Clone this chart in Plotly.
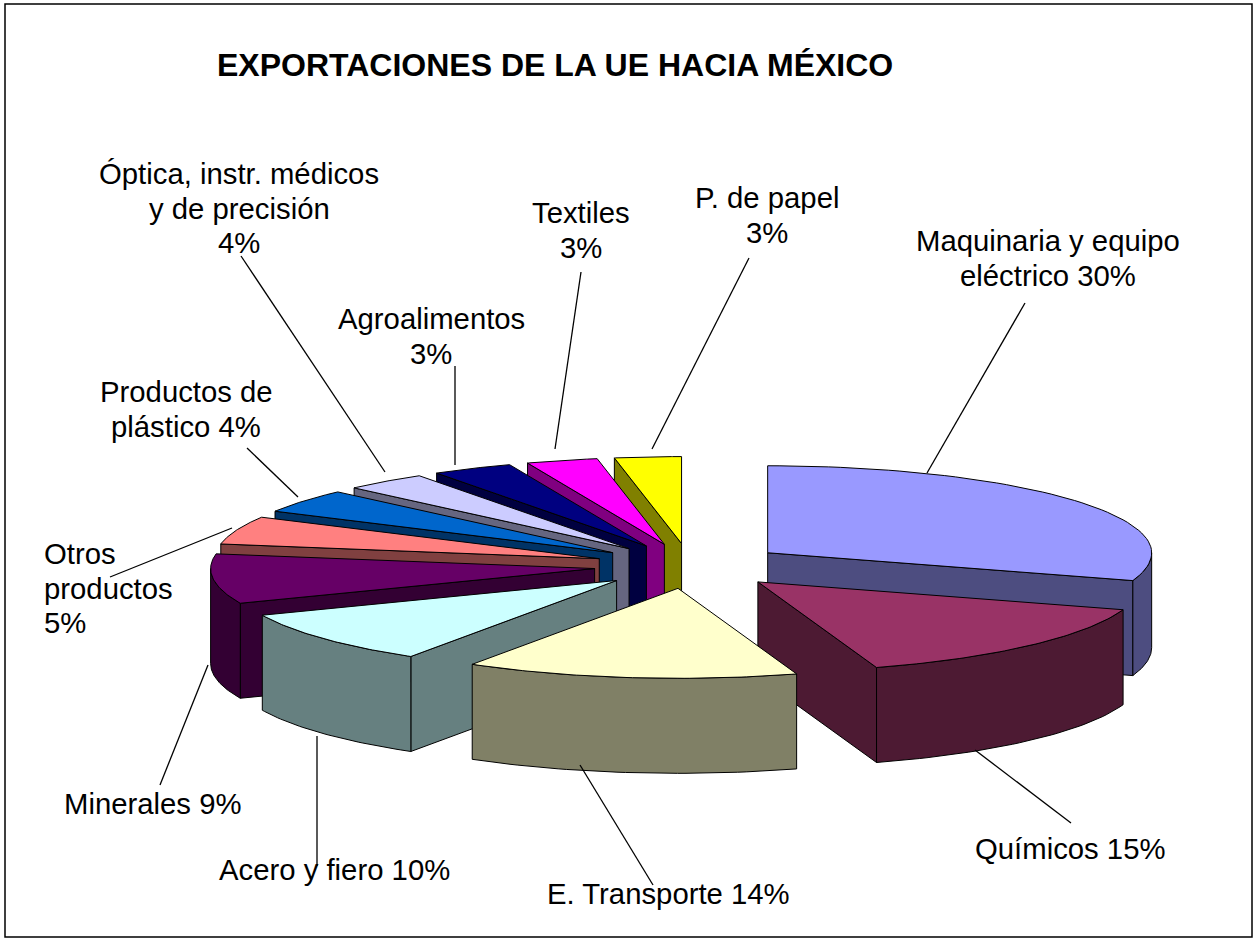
import numpy as np
import plotly.graph_objects as go

categories = ["Maquinaria y equipo eléctrico", "Químicos", "E. Transporte", "Acero y fiero", "Minerales",
              "Otros productos", "Productos de plástico", "Óptica, instr. médicos y de precisión",
              "Agroalimentos", "Textiles", "P. de papel"]
shares = [30, 15, 14, 9.7, 9, 5.2, 4.4, 3.5, 3.4, 3.0, 2.8]
top_colors = ["#9999FF", "#993366", "#FFFFCC", "#CCFFFF", "#660066", "#FF8080",
              "#0066CC", "#CCCCFF", "#000080", "#FF00FF", "#FFFF00"]
side_colors = ["#4D4D80", "#4D1A33", "#808066", "#668080", "#330033", "#804040",
               "#003366", "#666680", "#000040", "#800080", "#808000"]

title_text = "EXPORTACIONES DE LA UE HACIA MÉXICO"
label_texts = ["Maquinaria y equipo<br>eléctrico 30%", "Químicos 15%", "E. Transporte 14%", "Acero y fiero 10%",
               "Minerales 9%", "Otros<br>productos<br>5%", "Productos de<br>plástico 4%",
               "Óptica, instr. médicos<br>y de precisión<br>4%", "Agroalimentos<br>3%", "Textiles<br>3%",
               "P. de papel<br>3%"]
label_x = [1048, 1070, 668, 334, 152, 42, 186, 239, 431, 581, 767]
label_y = [258, 848, 893, 869, 803, 588, 409, 208, 336, 230, 215]
label_anchor = ["center"] * 5 + ["left"] + ["center"] * 5
leaders = [(1025, 303, 927, 473), (1071, 823, 975, 750), (653, 885, 580, 765), (317, 866, 317, 736),
           (160, 785, 208, 665), (110, 577, 232, 528), (247, 448, 298, 497), (241, 256, 385, 472),
           (455, 366, 455, 465), (581, 272, 555, 449), (749, 258, 652, 449)]

# projection of the exploded pie onto the page
CX, CY = 690, 566
RX = 384
RY_BACK, RY_FRONT = 87, 90
EXPLODE = 96
DEPTH = 95
FONT = "Liberation Sans, Arial, sans-serif"
LINE_STEP = 34.5

fig = go.Figure()


def poly(xs, ys, color):
    fig.add_trace(go.Scatter(x=list(xs) + [xs[0]], y=list(ys) + [ys[0]], mode="lines", fill="toself",
                             fillcolor=color, line=dict(color="#000000", width=1),
                             hoverinfo="skip", showlegend=False))


edges = np.concatenate([[0], np.cumsum(shares)]) * 3.6
slices = []
for i in range(len(shares)):
    t0, t1 = edges[i], edges[i + 1]
    slices.append((-np.cos(np.radians((t0 + t1) / 2)), i, t0, t1))

for _, i, t0, t1 in sorted(slices):
    mid = np.radians((t0 + t1) / 2)
    ax = CX + EXPLODE * np.sin(mid)
    ay = CY - EXPLODE * RY_FRONT / RX * np.cos(mid)

    def rim(deg):
        r = np.radians(deg)
        c = np.cos(r)
        return ax + RX * np.sin(r), ay - np.where(c > 0, RY_BACK, RY_FRONT) * c

    # radial side faces
    if np.sin(np.radians(t0)) < -1e-9:
        x, y = rim(t0)
        poly([ax, x, x, ax], [ay, y, y + DEPTH, ay + DEPTH], side_colors[i])
    if np.sin(np.radians(t1)) > 1e-9:
        x, y = rim(t1)
        poly([ax, x, x, ax], [ay, y, y + DEPTH, ay + DEPTH], side_colors[i])
    # outer rim
    lo, hi = max(t0, 90), min(t1, 270)
    if hi > lo:
        x, y = rim(np.linspace(lo, hi, 40))
        poly(np.concatenate([x, x[::-1]]), np.concatenate([y, y[::-1] + DEPTH]), side_colors[i])
    # top face
    x, y = rim(np.linspace(t0, t1, 60))
    poly(np.concatenate([[ax], x]), np.concatenate([[ay], y]), top_colors[i])

shapes = [dict(type="rect", x0=5, y0=4, x1=1252, y1=937, line=dict(color="#000000", width=1.5), layer="below")]
for x0, y0, x1, y1 in leaders:
    shapes.append(dict(type="line", x0=x0, y0=y0, x1=x1, y1=y1, line=dict(color="#000000", width=1.3)))

annotations = [dict(x=555, y=65, text=f"<b>{title_text}</b>", showarrow=False, xanchor="center", yanchor="middle",
                    font=dict(family=FONT, size=32, color="#000000"))]
for t, x, y, anc in zip(label_texts, label_x, label_y, label_anchor):
    lines = t.split("<br>")
    for k, line in enumerate(lines):
        annotations.append(dict(x=x, y=y + (k - (len(lines) - 1) / 2) * LINE_STEP, text=line, showarrow=False,
                                xanchor=anc, yanchor="middle", align=anc,
                                font=dict(family=FONT, size=29.3, color="#000000")))

fig.update_layout(width=1255, height=940, margin=dict(l=0, r=0, t=0, b=0), showlegend=False,
                  paper_bgcolor="#FFFFFF", plot_bgcolor="#FFFFFF", shapes=shapes, annotations=annotations,
                  xaxis=dict(range=[0, 1255], visible=False, fixedrange=True),
                  yaxis=dict(range=[940, 0], visible=False, fixedrange=True))
fig.write_html("out.html", config=dict(displayModeBar=False),
               post_script="document.body.style.margin='0';document.body.style.overflow='hidden';")
